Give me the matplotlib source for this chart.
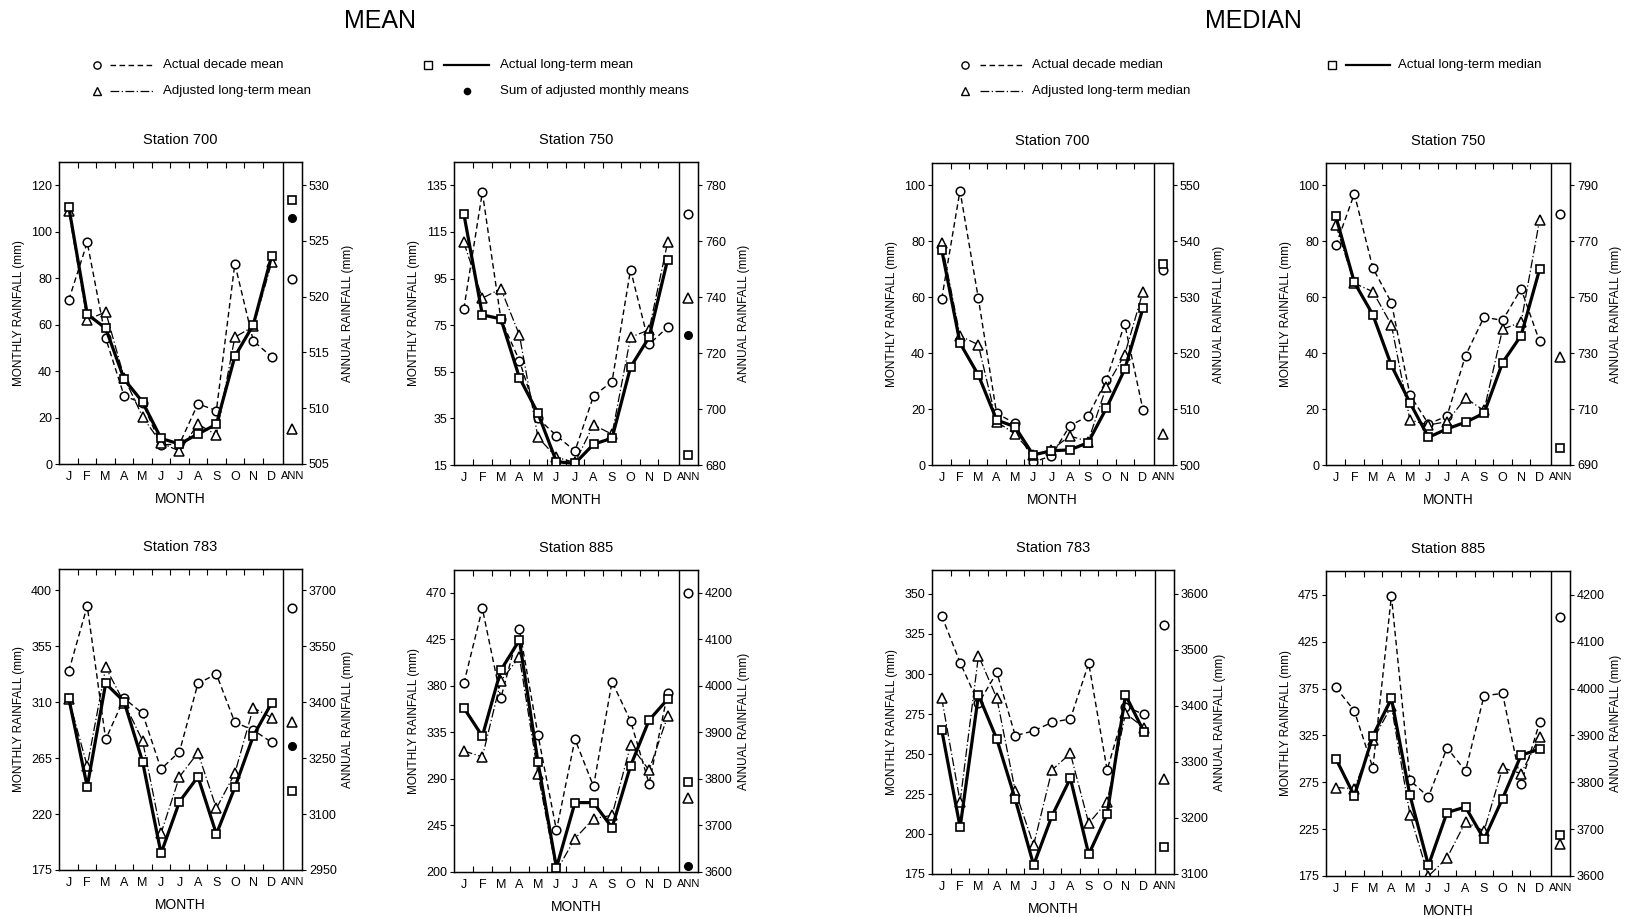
import matplotlib
matplotlib.use("Agg")
import matplotlib.pyplot as plt
from matplotlib import font_manager

# ── Font: a narrow sans if one is installed ─────────────────────────────────
_installed = {f.name for f in font_manager.fontManager.ttflist}
FONT = [n for n in ["Liberation Sans Narrow", "Liberation Sans", "DejaVu Sans"] if n in _installed] or ["DejaVu Sans"]
plt.rcParams["font.family"] = FONT

W, H = 1630, 917

# ── Data ─────────────────────────────────────────────────────────────────────
MONTH_LABELS = ["J", "F", "M", "A", "M", "J", "J", "A", "S", "O", "N", "D"]

# MEAN, station 700
mean700_decade = [70.6, 95.4, 54.2, 29.3, 26.2, 8.2, 8.6, 25.9, 23.0, 86.2, 53.0, 46.1]
mean700_adjusted = [108.8, 62.0, 65.5, 37.2, 20.3, 9.0, 5.6, 17.2, 12.5, 54.6, 59.2, 86.8]
mean700_longterm = [110.7, 64.5, 58.4, 36.5, 26.7, 11.0, 8.6, 12.9, 17.1, 46.3, 59.9, 89.7]
mean700_annual = [521.6, 508.1, 528.7, 527.1]   # decade, adjusted, long-term, sum

# MEAN, station 750
mean750_decade = [82.0, 132.0, 77.6, 59.8, 35.0, 27.6, 21.0, 44.6, 50.8, 98.8, 66.8, 74.1]
mean750_adjusted = [110.5, 86.6, 90.6, 70.8, 26.9, 18.3, 16.1, 32.2, 28.2, 69.8, 73.0, 110.5]
mean750_longterm = [122.8, 79.4, 77.7, 52.5, 37.2, 16.4, 15.7, 23.9, 26.5, 57.0, 69.8, 103.1]
mean750_annual = [769.7, 739.7, 683.6, 726.5]

# MEAN, station 783
mean783_decade = [334.9, 387.2, 280.0, 313.0, 300.9, 256.2, 270.1, 325.0, 332.5, 293.7, 287.5, 277.6]
mean783_adjusted = [312.4, 258.6, 337.9, 309.6, 278.9, 204.5, 250.0, 269.3, 224.6, 252.7, 305.5, 297.4]
mean783_longterm = [313.0, 242.0, 325.0, 310.3, 262.1, 188.4, 229.9, 250.0, 203.9, 241.4, 282.7, 309.5]
mean783_annual = [3651.0, 3345.5, 3161.6, 3283.0]

# MEAN, station 885
mean885_decade = [382.3, 454.8, 368.4, 434.8, 332.9, 240.3, 328.4, 282.9, 383.9, 346.1, 285.5, 372.6]
mean885_adjusted = [317.1, 311.3, 384.8, 408.0, 295.2, 201.0, 232.3, 251.6, 254.8, 322.6, 298.4, 350.6]
mean885_longterm = [358.7, 331.3, 395.2, 424.2, 306.5, 204.2, 267.1, 267.1, 242.9, 302.6, 346.8, 367.1]
mean885_annual = [4200.0, 3759.9, 3793.5, 3612.9]

# MEDIAN, station 700
median700_decade = [59.4, 98.1, 59.7, 18.5, 14.9, 1.0, 3.3, 14.0, 17.5, 30.4, 50.5, 19.7]
median700_adjusted = [79.4, 46.2, 43.0, 15.5, 11.1, 3.6, 5.4, 10.4, 8.4, 28.0, 39.5, 62.0]
median700_longterm = [77.0, 43.6, 32.2, 16.1, 13.7, 3.6, 5.1, 5.4, 8.0, 20.3, 34.2, 56.1]
median700_annual = [534.8, 505.5, 535.9]

# MEDIAN, station 750
median750_decade = [78.5, 97.0, 70.4, 58.1, 25.1, 14.7, 17.5, 39.1, 52.9, 51.7, 63.0, 44.2]
median750_adjusted = [85.9, 65.0, 62.0, 50.1, 16.1, 14.3, 15.5, 23.9, 19.5, 48.6, 51.0, 87.7]
median750_longterm = [88.9, 65.3, 53.7, 35.6, 22.3, 9.9, 12.9, 15.3, 18.5, 36.6, 46.3, 70.0]
median750_annual = [779.9, 728.8, 696.2]

# MEDIAN, station 783
median783_decade = [336.3, 307.1, 281.7, 301.0, 261.5, 264.4, 269.8, 271.9, 306.7, 240.0, 279.6, 274.8]
median783_adjusted = [284.8, 220.2, 311.5, 284.8, 226.9, 193.1, 240.0, 250.4, 206.7, 220.2, 275.4, 266.5]
median783_longterm = [265.0, 204.2, 286.9, 259.2, 221.7, 180.6, 211.3, 234.8, 187.3, 212.3, 286.9, 264.0]
median783_annual = [3544.6, 3269.0, 3147.6]

# MEDIAN, station 885
median885_decade = [376.3, 351.3, 290.4, 474.0, 277.2, 259.4, 311.8, 287.2, 367.4, 369.9, 273.7, 338.9]
median885_adjusted = [269.4, 268.3, 320.0, 356.3, 240.6, 175.0, 194.2, 232.7, 223.1, 290.4, 284.4, 323.6]
median885_longterm = [300.4, 260.5, 324.6, 364.5, 261.2, 186.4, 242.7, 248.7, 214.2, 257.7, 304.0, 310.4]
median885_annual = [4152.3, 3669.1, 3686.9]

# Panel layout: (pixel box left, top, right, bottom), title, left ticks, top of left
# axis, right ticks, series
PANELS = [
    ((59, 162, 302, 464), "Station 700", [0, 20, 40, 60, 80, 100, 120], 130,
     [505, 510, 515, 520, 525, 530],
     mean700_decade, mean700_adjusted, mean700_longterm, mean700_annual),
    ((454, 162, 698, 465), "Station 750", [15, 35, 55, 75, 95, 115, 135], 145,
     [680, 700, 720, 740, 760, 780],
     mean750_decade, mean750_adjusted, mean750_longterm, mean750_annual),
    ((932, 163, 1173, 465), "Station 700", [0, 20, 40, 60, 80, 100], 108,
     [500, 510, 520, 530, 540, 550],
     median700_decade, median700_adjusted, median700_longterm, median700_annual),
    ((1326, 163, 1570, 465), "Station 750", [0, 20, 40, 60, 80, 100], 108,
     [690, 710, 730, 750, 770, 790],
     median750_decade, median750_adjusted, median750_longterm, median750_annual),
    ((59, 569, 302, 870), "Station 783", [175, 220, 265, 310, 355, 400], 417,
     [2950, 3100, 3250, 3400, 3550, 3700],
     mean783_decade, mean783_adjusted, mean783_longterm, mean783_annual),
    ((454, 570, 698, 872), "Station 885", [200, 245, 290, 335, 380, 425, 470], 492,
     [3600, 3700, 3800, 3900, 4000, 4100, 4200],
     mean885_decade, mean885_adjusted, mean885_longterm, mean885_annual),
    ((932, 570, 1174, 874), "Station 783", [175, 200, 225, 250, 275, 300, 325, 350], 365,
     [3100, 3200, 3300, 3400, 3500, 3600],
     median783_decade, median783_adjusted, median783_longterm, median783_annual),
    ((1326, 571, 1570, 876), "Station 885", [175, 225, 275, 325, 375, 425, 475], 500.6,
     [3600, 3700, 3800, 3900, 4000, 4100, 4200],
     median885_decade, median885_adjusted, median885_longterm, median885_annual),
]

# ── Styles ───────────────────────────────────────────────────────────────────
DECADE = dict(color="black", lw=1.0, ls=(0, (4, 2.5)), marker="o", ms=6.2,
              mfc="white", mec="black", mew=1.1)
ADJUSTED = dict(color="black", lw=0.9, ls=(0, (7, 2, 1, 2)), marker="^", ms=6.8,
                mfc="white", mec="black", mew=1.1)
LONGTERM = dict(color="black", lw=2.3, ls="-", marker="s", ms=6.2,
                mfc="white", mec="black", mew=1.2)
SUMDOT = dict(color="black", ls="none", marker="o", ms=5.5)

X_MIN, X_DIV, X_ANN, X_MAX = 0.47, 12.6, 13.12, 13.64
TICK_FS = 9


def fig_box(box):
    l, t, r, b = box
    return [l / W, 1 - b / H, (r - l) / W, (b - t) / H]


def marker_only(style):
    return {k: v for k, v in style.items() if k not in ("ls", "lw", "color")}


def draw_panel(fig, spec):
    box, title, yticks, ytop, rticks, decade, adjusted, longterm, annual = spec
    ax = fig.add_axes(fig_box(box))
    months = list(range(1, 13))

    ax.plot(months, decade, **DECADE, zorder=3)
    ax.plot(months, adjusted, **ADJUSTED, zorder=4)
    ax.plot(months, longterm, **LONGTERM, zorder=5)
    ax.axvline(X_DIV, color="black", lw=1.0)

    ax.set_xlim(X_MIN, X_MAX)
    ax.set_ylim(yticks[0], ytop)
    ax.set_xticks(months + [X_ANN])
    ax.set_xticklabels(MONTH_LABELS + ["ANN"], fontsize=TICK_FS)
    ax.get_xticklabels()[-1].set_fontsize(8)
    ax.set_xticks([m + 0.5 for m in range(1, 12)], minor=True)
    ax.tick_params(axis="x", which="major", length=0, pad=5)
    ax.tick_params(axis="x", which="minor", direction="in", top=True,
                   bottom=True, length=4, width=0.8)
    ax.set_yticks(yticks)
    ax.set_yticklabels([str(v) for v in yticks], fontsize=TICK_FS)
    ax.tick_params(axis="y", direction="out", length=3, width=0.8, pad=2)
    for sp in ax.spines.values():
        sp.set_linewidth(1.0)

    # right-hand annual axis, aligned so its tick span matches the left one
    ax2 = ax.twinx()
    scale = (rticks[-1] - rticks[0]) / (yticks[-1] - yticks[0])
    ax2.set_ylim(rticks[0], rticks[0] + (ytop - yticks[0]) * scale)
    ax2.set_yticks(rticks)
    ax2.set_yticklabels([str(v) for v in rticks], fontsize=TICK_FS)
    ax2.tick_params(axis="y", direction="out", length=3, width=0.8, pad=2)

    ax2.plot([X_ANN], [annual[0]], ls="none", **marker_only(DECADE))
    ax2.plot([X_ANN], [annual[1]], ls="none", **marker_only(ADJUSTED))
    ax2.plot([X_ANN], [annual[2]], ls="none", **marker_only(LONGTERM))
    if len(annual) > 3:
        ax2.plot([X_ANN], [annual[3]], **SUMDOT)

    l, t, r, b = box
    cx = (l + r) / 2
    fig.text(cx / W, 1 - (t - 22) / H, title, ha="center", va="center", fontsize=10.5)
    fig.text(cx / W, 1 - (b + 35) / H, "MONTH", ha="center", va="center", fontsize=10)
    fig.text((l - 40) / W, 1 - ((t + b) / 2) / H, "MONTHLY RAINFALL (mm)",
             rotation=90, ha="center", va="center", fontsize=8.5)
    fig.text((r + 46) / W, 1 - ((t + b) / 2) / H, "ANNUAL RAINFALL (mm)",
             rotation=90, ha="center", va="center", fontsize=8.5)


def draw_legends(fig):
    lg = fig.add_axes([0, 0, 1, 1])
    lg.set_xlim(0, W)
    lg.set_ylim(H, 0)
    lg.axis("off")
    lg.patch.set_visible(False)

    def item(xm, xl0, xl1, xt, y, style, text):
        if xl0 is not None:
            lg.plot([xl0, xl1], [y, y], color="black", lw=style.get("lw", 1.0),
                    ls=style.get("ls", "-"))
        lg.plot([xm], [y], ls="none", marker=style["marker"], ms=style["ms"] - 1,
                mfc=style.get("mfc", "black"), mec="black", mew=1.0)
        lg.text(xt, y, text, ha="left", va="center", fontsize=9.5)

    thin_solid = dict(LONGTERM, lw=1.6)
    # MEAN legend
    item(97, 110, 155, 163, 65, DECADE, "Actual decade mean")
    item(97, 110, 155, 163, 91, ADJUSTED, "Adjusted long-term mean")
    item(428, 444, 489, 500, 65, thin_solid, "Actual long-term mean")
    item(467, None, None, 500, 91, SUMDOT, "Sum of adjusted monthly means")
    # MEDIAN legend
    item(965, 980, 1025, 1032, 65, DECADE, "Actual decade median")
    item(965, 980, 1025, 1032, 91, ADJUSTED, "Adjusted long-term median")
    item(1332, 1346, 1390, 1398, 65, thin_solid, "Actual long-term median")

    fig.text(380 / W, 1 - 21 / H, "MEAN", ha="center", va="center", fontsize=18)
    fig.text(1253 / W, 1 - 21 / H, "MEDIAN", ha="center", va="center", fontsize=18)


fig = plt.figure(figsize=(W / 100, H / 100), dpi=100, facecolor="white")
for spec in PANELS:
    draw_panel(fig, spec)
draw_legends(fig)
fig.savefig("out.png", dpi=100, facecolor="white")
